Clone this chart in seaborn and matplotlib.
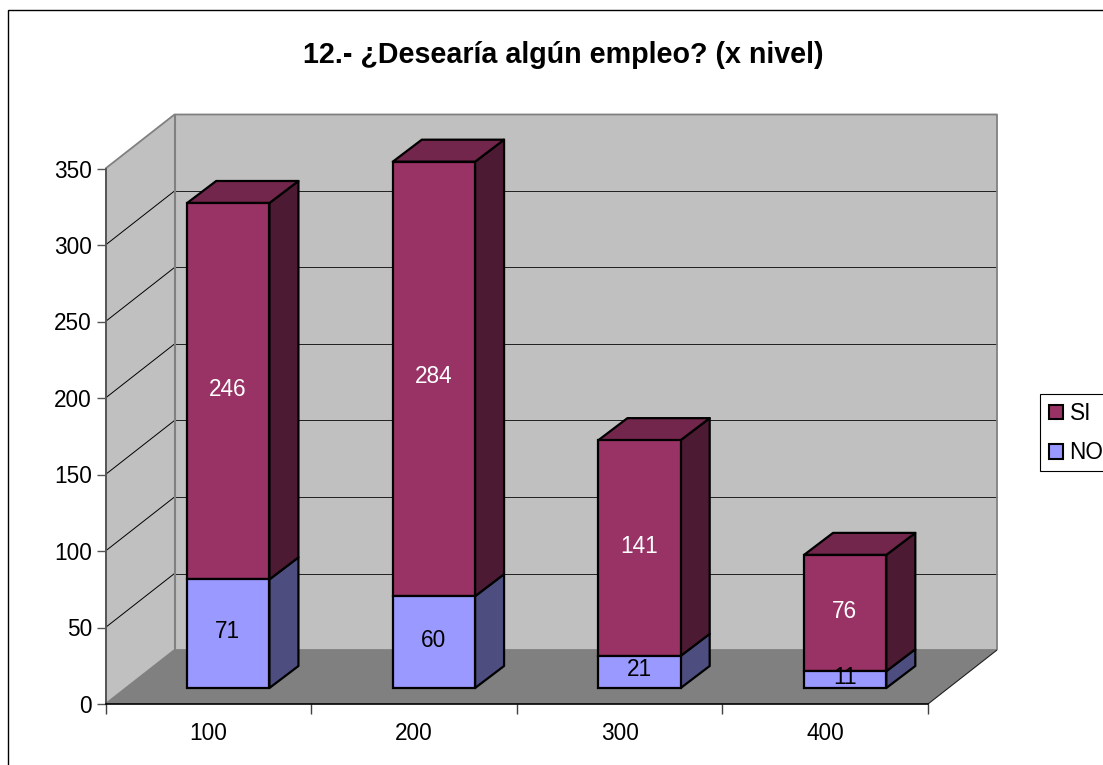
import matplotlib
matplotlib.use("Agg")
import matplotlib.pyplot as plt
from matplotlib.patches import Polygon, Rectangle, Patch
from matplotlib.transforms import Affine2D
import pandas as pd
import seaborn as sns

# ---- data
niveles = ["100", "200", "300", "400"]
no_values = [71, 60, 21, 11]
si_values = [246, 284, 141, 76]
y_ticks = [0, 50, 100, 150, 200, 250, 300, 350]
title_text = "12.- ¿Desearía algún empleo? (x nivel)"

# ---- colours
SI_FRONT, SI_TOP, SI_SIDE = "#993366", "#72264C", "#4D1A33"
NO_FRONT, NO_SIDE = "#9999FF", "#4D4D80"
WALL, FLOOR, EDGE = "#C0C0C0", "#808080", "#808080"

W, H = 1103, 765
sns.set_style("white")
plt.rcParams["font.family"] = ["Liberation Sans", "DejaVu Sans"]
plt.rcParams["text.color"] = "black"
LW = 1.0
FS = 16.3

df = pd.DataFrame({"nivel": niveles, "NO": no_values, "SI": si_values})
df["base"] = df["NO"]

fig = plt.figure(figsize=(W / 100, H / 100), dpi=100, facecolor="white")
L, R, T0, B0 = 105.5, 928, 168.5, 704
ax = fig.add_axes([L / W, 1 - B0 / H, (R - L) / W, (B0 - T0) / H])
ax.patch.set_alpha(0)

sns.barplot(data=df, x="nivel", y="SI", bottom=df["base"], color=SI_FRONT, saturation=1,
            width=0.4, edgecolor="black", linewidth=1.6, ax=ax, zorder=5)
sns.barplot(data=df, x="nivel", y="NO", color=NO_FRONT, saturation=1,
            width=0.4, edgecolor="black", linewidth=1.6, ax=ax, zorder=5)
ax.set_xlim(-0.5, 3.5)
ax.set_ylim(0, 350)
ax.set_xlabel("")
ax.set_ylabel("")

# pixels -> data units on the two scales
px_x = 4 / (R - L)
px_y = 350 / (B0 - T0)
DX, DY = 69 * px_x, 54 * px_y      # depth of the plot box
BX, BY = 29 * px_x, 22 * px_y      # depth of a bar
x0, x1 = -0.5, 3.5
bar_shift = ax.transData + Affine2D().translate(20, 16)


def poly(pts, fc, ec="none", lw=0, z=1, tr=None):
    ax.add_patch(Polygon(pts, closed=True, facecolor=fc, edgecolor=ec, linewidth=lw, zorder=z,
                         clip_on=False, joinstyle="round",
                         transform=tr if tr is not None else ax.transData))


def line(xs, ys, c, lw, z=2):
    ax.plot(xs, ys, color=c, lw=lw, zorder=z, clip_on=False, solid_capstyle="butt")


# walls and floor
poly([(x0 + DX, DY), (x1 + DX, DY), (x1 + DX, 350 + DY), (x0 + DX, 350 + DY)], WALL)
poly([(x0, 0), (x0 + DX, DY), (x0 + DX, 350 + DY), (x0, 350)], WALL)
poly([(x0, 0), (x1, 0), (x1 + DX, DY), (x0 + DX, DY)], FLOOR)
for v in y_ticks[1:-1]:
    line([x0, x0 + DX], [v, v + DY], "black", 0.7)
    line([x0 + DX, x1 + DX], [v + DY, v + DY], "#202020", 0.7)
line([x0, x0 + DX, x1 + DX, x1 + DX], [350, 350 + DY, 350 + DY, DY], EDGE, 1.3, 3)
line([x0 + DX, x0 + DX], [DY, 350 + DY], EDGE, 1.5, 3)
line([x0, x0 + DX, x1 + DX], [0, DY, DY], EDGE, 1.3, 3)
line([x1, x1 + DX], [0, DY], "#202020", 0.8, 3)

# shift the fronts of the bars, add their side and top faces
for p in ax.patches:
    if p.get_zorder() == 5:
        p.set_transform(bar_shift)
        p.set_clip_on(False)
for i, (no, si) in enumerate(zip(no_values, si_values)):
    a, b = i + 0.2, i - 0.2
    top = no + si
    poly([(a, 0), (a + BX, BY), (a + BX, no + BY), (a, no)], NO_SIDE, "black", 1.6, 4, bar_shift)
    poly([(a, no), (a + BX, no + BY), (a + BX, top + BY), (a, top)], SI_SIDE, "black", 1.6, 4, bar_shift)
    poly([(b, top), (a, top), (a + BX, top + BY), (b + BX, top + BY)], SI_TOP, "black", 1.6, 4, bar_shift)
    label_shift = bar_shift + Affine2D().translate(-0.4, 2)
    ax.text(i, no / 2, str(no), color="black", fontsize=FS, ha="center", va="center",
            transform=label_shift, zorder=7)
    ax.text(i, no + si / 2, str(si), color="white", fontsize=FS, ha="center", va="center",
            transform=label_shift, zorder=7)

# axes furniture
sns.despine(ax=ax, top=True, right=True)
ax.spines["left"].set(color="#555555", linewidth=1.4, zorder=6)
ax.spines["bottom"].set(color="black", linewidth=1.2, zorder=6)
ax.set_yticks(y_ticks)
ax.set_xticks([x - 0.5 for x in range(5)], minor=True)
ax.tick_params(axis="y", which="major", left=True, length=6.5, width=LW, color="#555555",
               labelsize=FS, pad=3.2, labelcolor="black")
ax.tick_params(axis="x", which="major", bottom=False, length=0, labelsize=FS, pad=13, labelcolor="black")
ax.tick_params(axis="x", which="minor", bottom=True, length=7, width=LW, color="#404040")

# chart area frame and title
fig.add_artist(Rectangle((8.0 / W, -0.05), 1.1, 1.05 - 10.5 / H, transform=fig.transFigure,
                         facecolor="none", edgecolor="black", linewidth=1.0, zorder=-1))
fig.text(563 / W, 1 - 55 / H, title_text, fontsize=20.6, fontweight="bold", ha="center", va="center",
         color="black")

# legend
fig.add_artist(Rectangle((1039.5 / W, 1 - 471 / H), 80 / W, 77 / H, transform=fig.transFigure,
                         facecolor="white", edgecolor="black", linewidth=0.8))
leg = ax.legend(handles=[Patch(facecolor=SI_FRONT, edgecolor="black", linewidth=1.5, label="SI"),
                         Patch(facecolor=NO_FRONT, edgecolor="black", linewidth=1.5, label="NO")],
                loc="upper left", bbox_to_anchor=(1039 / W, 1 - 392 / H), bbox_transform=fig.transFigure,
                fontsize=FS, frameon=False,
                handlelength=0.6, handleheight=0.6, handletextpad=0.3, labelspacing=0.72,
                borderpad=0.45, borderaxespad=0, labelcolor="black")
leg.set_zorder(10)
ax.set_zorder(5)

fig.savefig("out.png", dpi=100)
